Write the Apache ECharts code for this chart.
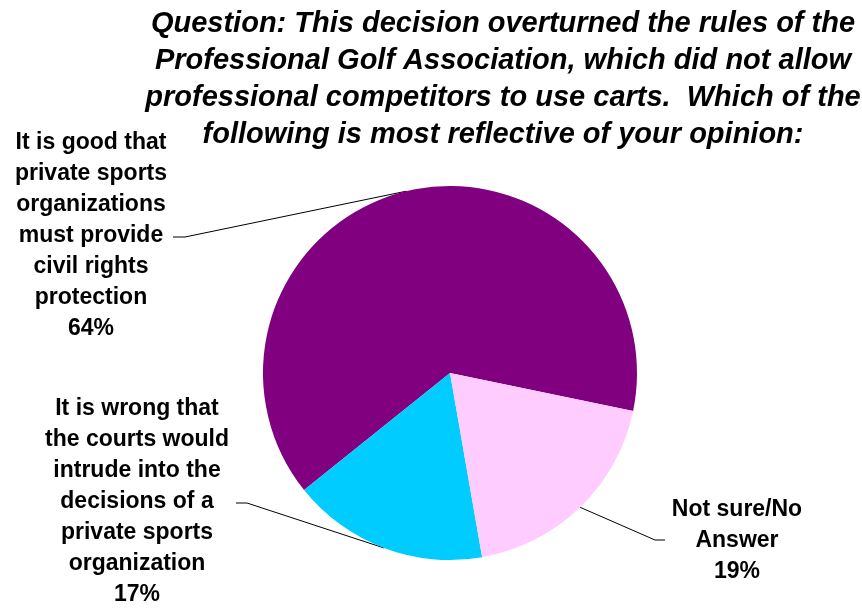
<!DOCTYPE html>
<html>
<head>
<meta charset="utf-8">
<script src="https://cdn.jsdelivr.net/npm/echarts@6/dist/echarts.min.js"></script>
<style>
  html, body { margin: 0; padding: 0; background: #ffffff; }
  #chart { width: 862px; height: 608px; }
</style>
</head>
<body>
<div id="chart"></div>
<script>
// Survey question shown as the title
const titleLines = [
  'Question: This decision overturned the rules of the',
  'Professional Golf Association, which did not allow',
  'professional competitors to use carts.  Which of the',
  'following is most reflective of your opinion:'
];

// Answer categories (label line breaks included) and their shares in percent
const categories = [
  'It is good that\nprivate sports\norganizations\nmust provide\ncivil rights\nprotection',
  'It is wrong that\nthe courts would\nintrude into the\ndecisions of a\nprivate sports\norganization',
  'Not sure/No\nAnswer'
];
const shares = [64, 17, 19];
const sliceColors = ['#800080', '#00CCFF', '#FFCCFF'];

// Where each label block sits and how its leader line bends
const labelPlacement = [
  { x: 91,  y: 236, bend: [185, 237], end: [173, 237] },
  { x: 137, y: 502, bend: [247, 503], end: [236, 503] },
  { x: 737, y: 541, bend: [655, 540], end: [665, 540] }
];

const chart = echarts.init(document.getElementById('chart'), null, { renderer: 'canvas' });

chart.setOption({
  backgroundColor: '#ffffff',
  animation: false,
  title: {
    text: titleLines.join('\n'),
    left: 498,
    top: 0,
    textAlign: 'center',
    textStyle: {
      fontFamily: 'Liberation Sans, Arial, sans-serif',
      fontStyle: 'italic',
      fontWeight: 'bold',
      fontSize: 29,
      lineHeight: 37,
      color: '#000000'
    }
  },
  series: [{
    type: 'pie',
    center: [450, 373],
    radius: 187,
    startAngle: -11.7,
    clockwise: false,
    silent: true,
    itemStyle: { borderWidth: 0 },
    label: {
      show: true,
      position: 'outside',
      formatter: p => p.name + '\n' + p.value + '%',
      fontFamily: 'Liberation Sans, Arial, sans-serif',
      fontWeight: 'bold',
      fontSize: 23,
      lineHeight: 31,
      color: '#000000',
      align: 'center'
    },
    labelLine: {
      show: true,
      length: 10,
      length2: 10,
      smooth: false,
      lineStyle: { color: '#000000', width: 1 }
    },
    labelLayout: function (params) {
      const pl = labelPlacement[params.dataIndex];
      const start = params.labelLinePoints ? params.labelLinePoints[0] : pl.bend;
      return {
        x: pl.x,
        y: pl.y,
        align: 'center',
        verticalAlign: 'middle',
        labelLinePoints: [start, pl.bend, pl.end]
      };
    },
    data: categories.map((name, i) => ({
      name: name,
      value: shares[i],
      itemStyle: { color: sliceColors[i] }
    }))
  }]
});
</script>
</body>
</html>
